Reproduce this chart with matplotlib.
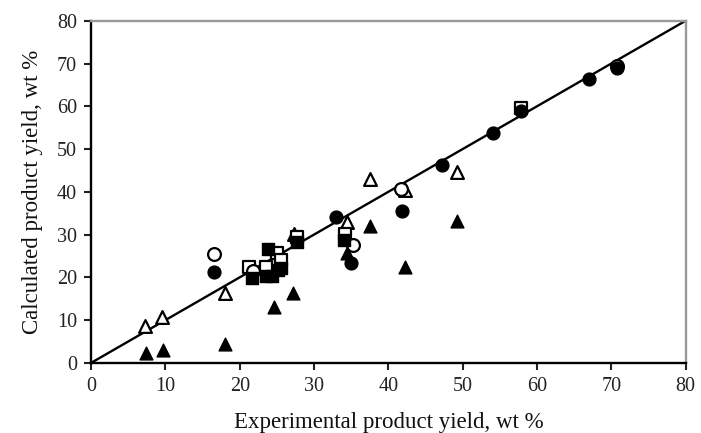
import numpy as np
import matplotlib.pyplot as plt

plt.rcParams['font.family'] = ['Liberation Serif', 'DejaVu Serif']

# filled circles
fc_x = [16.5, 33.0, 35.0, 41.8, 47.2, 54.1, 57.8, 67.0, 70.8]
fc_y = [21.3, 34.1, 23.4, 35.6, 46.2, 53.8, 58.9, 66.3, 68.9]
# open circles
oc_x = [16.5, 21.8, 35.2, 41.7, 70.8]
oc_y = [25.5, 21.5, 27.6, 40.6, 69.5]
# filled squares
fs_x = [21.7, 23.8, 23.6, 24.4, 25.1, 25.6, 27.7, 34.0]
fs_y = [19.8, 26.6, 20.2, 20.2, 21.7, 22.1, 28.3, 28.7]
# open squares
os_x = [21.2, 23.5, 25.0, 25.6, 27.7, 34.2, 57.8]
os_y = [22.5, 22.5, 25.6, 24.1, 29.5, 30.1, 59.6]
# filled triangles
ft_x = [7.4, 9.7, 18.0, 24.6, 27.2, 34.4, 37.5, 42.2, 49.2]
ft_y = [2.4, 3.0, 4.4, 13.0, 16.3, 25.6, 32.1, 22.4, 33.2]
# open triangles
ot_x = [7.3, 9.6, 18.0, 27.3, 34.4, 37.5, 42.2, 49.2]
ot_y = [8.7, 10.8, 16.4, 30.1, 33.0, 43.0, 40.4, 44.7]

fig = plt.figure(figsize=(7.01, 4.33), dpi=100)
ax = fig.add_axes([0.13, 0.162, 0.848, 0.79])

ax.plot([0, 80], [0, 80], color='black', lw=1.7, zorder=1)

ms = 85
ax.scatter(ot_x, ot_y, marker='^', s=ms, facecolor='white', edgecolor='black', lw=1.6, zorder=2)
ax.scatter(os_x, os_y, marker='s', s=ms * 0.85, facecolor='white', edgecolor='black', lw=1.6, zorder=2)
ax.scatter(oc_x, oc_y, marker='o', s=ms, facecolor='white', edgecolor='black', lw=1.6, zorder=2)
ax.scatter(fs_x, fs_y, marker='s', s=ms * 0.85, color='black', zorder=3)
ax.scatter(ft_x, ft_y, marker='^', s=ms, color='black', zorder=3)
ax.scatter(fc_x, fc_y, marker='o', s=ms, color='black', zorder=3)

ax.set_xlim(0, 80)
ax.set_ylim(0, 80)
ax.set_xticks(np.arange(0, 81, 10))
ax.set_yticks(np.arange(0, 81, 10))
ax.tick_params(direction='out', length=5, width=1.5, labelsize=14.5, pad=5, colors='#222222')
for s in ['left', 'bottom']:
    ax.spines[s].set_linewidth(1.7)
for s in ['top', 'right']:
    ax.spines[s].set_color('#999999')
    ax.spines[s].set_linewidth(1.7)

ax.set_xlabel('Experimental product yield, wt %', fontsize=16.5, labelpad=12, color='#111111')
ax.set_ylabel('Calculated product yield, wt %', fontsize=16.5, labelpad=10, color='#111111')

fig.savefig('out.png', dpi=100)
